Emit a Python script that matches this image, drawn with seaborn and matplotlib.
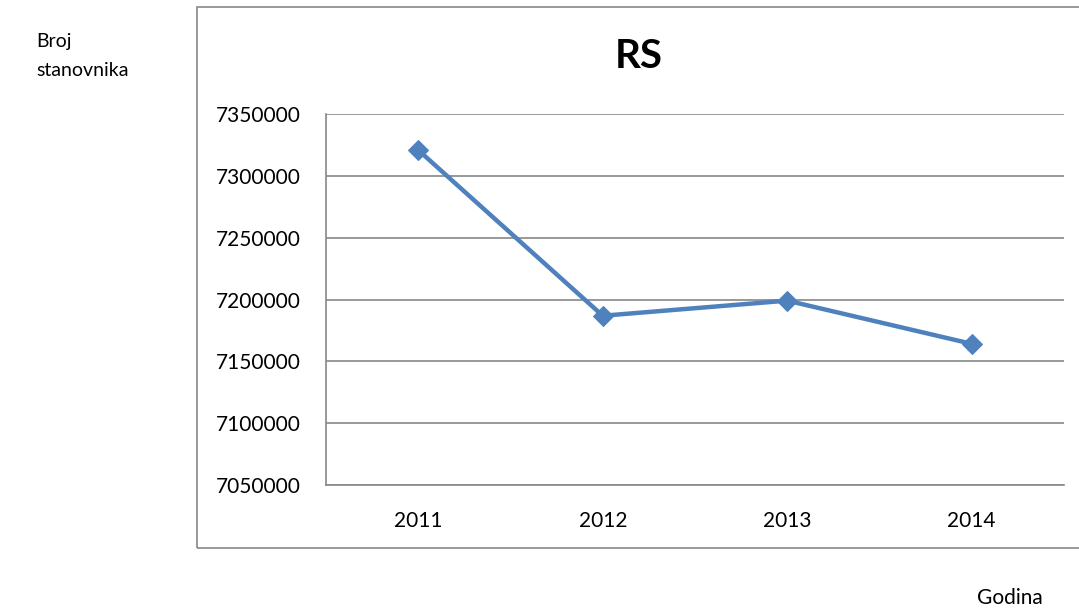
import matplotlib
matplotlib.use("Agg")
import matplotlib.pyplot as plt
import seaborn as sns
import pandas as pd
from matplotlib.patches import Rectangle
from matplotlib.ticker import FixedLocator

# Broj stanovnika RS po godinama
godine = ["2011", "2012", "2013", "2014"]
stanovnici = [7320807, 7186862, 7199077, 7164132]
y_ticks = [7050000, 7100000, 7150000, 7200000, 7250000, 7300000, 7350000]

df = pd.DataFrame({"Godina": godine, "Broj stanovnika": stanovnici})

sns.set_style("white")
plt.rcParams["font.family"] = ["Lato", "DejaVu Sans"]
plt.rcParams["text.color"] = "black"
plt.rcParams["xtick.color"] = "black"
plt.rcParams["ytick.color"] = "black"

fig = plt.figure(figsize=(10.79, 6.12), dpi=100)
ax = fig.add_axes([326 / 1079, 1 - 485 / 612, (1064 - 326) / 1079, (485 - 114) / 612])

# okvir grafikona
fig.patches.append(Rectangle((197 / 1079, 1 - 548 / 612), 0.9, (548 - 7) / 612,
                             transform=fig.transFigure, fill=False,
                             edgecolor="#888888", linewidth=1.2))

sns.lineplot(data=df, x="Godina", y="Broj stanovnika", ax=ax, color="#4F81BD",
             linewidth=3.2, marker="D", markersize=10, markeredgecolor="#4F81BD",
             sort=False)

ax.set_xlim(-0.5, 3.5)
ax.set_ylim(y_ticks[0], y_ticks[-1])
ax.set_yticks(y_ticks)
ax.set_yticklabels([str(v) for v in y_ticks], fontsize=15)
ax.set_xticks(range(len(godine)))
ax.set_xticklabels(godine, fontsize=15)
ax.xaxis.set_minor_locator(FixedLocator([-0.5, 0.5, 1.5, 2.5, 3.5]))
ax.tick_params(axis="x", which="major", length=0, pad=19)
ax.tick_params(axis="x", which="minor", length=5, color="#888888", width=1.2)
ax.tick_params(axis="y", length=6, color="#888888", width=1.2, pad=12)
ax.grid(axis="y", color="#888888", linewidth=1.2)
ax.set_axisbelow(True)
for s in ["top", "right"]:
    ax.spines[s].set_visible(False)
for s in ["left", "bottom"]:
    ax.spines[s].set_color("#888888")
    ax.spines[s].set_linewidth(1.2)
ax.set_xlabel("")
ax.set_ylabel("")

fig.text(639 / 1079, 1 - 57 / 612, "RS", fontsize=29, fontweight="bold",
         ha="center", va="center")
fig.text(36 / 1079, 1 - 41 / 612, "Broj", fontsize=14, ha="left", va="center")
fig.text(36 / 1079, 1 - 70 / 612, "stanovnika", fontsize=14, ha="left", va="center")
fig.text(1010 / 1079, 1 - 598 / 612, "Godina", fontsize=15, ha="center", va="center")

fig.savefig("out.png", dpi=100)
